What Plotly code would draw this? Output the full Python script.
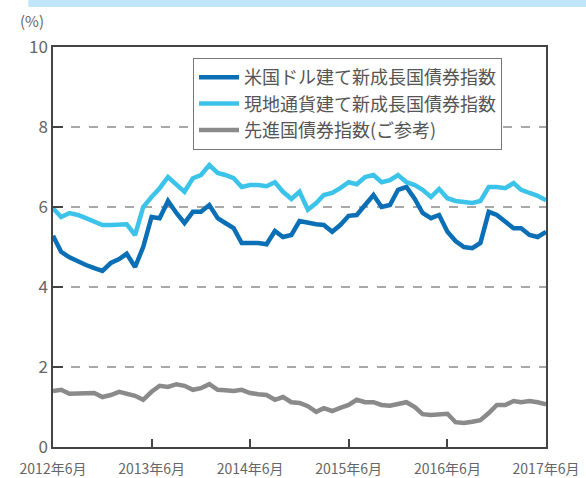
import pandas as pd
import plotly.graph_objects as go

months = pd.date_range("2012-06-01", "2017-06-01", freq="MS")

usd_em = [5.28, 4.88, 4.74, 4.63, 4.55, 4.47, 4.40, 4.60, 4.70, 4.83,
          4.50, 5.00, 5.75, 5.72, 6.15, 5.85, 5.60, 5.88, 5.88, 6.05,
          5.72, 5.60, 5.47, 5.10, 5.10, 5.10, 5.07, 5.40, 5.25, 5.30,
          5.65, 5.60, 5.57, 5.55, 5.38, 5.55, 5.78, 5.80, 6.05, 6.30,
          6.00, 6.05, 6.43, 6.50, 6.20, 5.85, 5.72, 5.80, 5.38, 5.15,
          5.00, 4.97, 5.10, 5.88, 5.80, 5.65, 5.47, 5.47, 5.30, 5.25,
          5.38]

local_em = [5.97, 5.75, 5.85, 5.80, 5.72, 5.62, 5.55, 5.55, 5.55, 5.57,
            5.30, 6.00, 6.25, 6.47, 6.75, 6.55, 6.38, 6.72, 6.80, 7.05,
            6.85, 6.80, 6.72, 6.50, 6.55, 6.55, 6.52, 6.62, 6.38, 6.20,
            6.38, 5.93, 6.10, 6.30, 6.35, 6.47, 6.62, 6.57, 6.75, 6.80,
            6.62, 6.67, 6.80, 6.62, 6.55, 6.43, 6.25, 6.45, 6.22, 6.15,
            6.12, 6.10, 6.15, 6.50, 6.50, 6.47, 6.60, 6.43, 6.35, 6.28,
            6.17]

developed = [1.40, 1.43, 1.33, 1.33, 1.33, 1.35, 1.25, 1.30, 1.38, 1.33,
             1.28, 1.18, 1.38, 1.53, 1.50, 1.57, 1.53, 1.43, 1.47, 1.57,
             1.43, 1.42, 1.40, 1.43, 1.35, 1.32, 1.30, 1.18, 1.25, 1.12,
             1.10, 1.02, 0.88, 0.97, 0.90, 0.98, 1.05, 1.18, 1.12, 1.12,
             1.05, 1.03, 1.07, 1.12, 1.00, 0.82, 0.80, 0.82, 0.83, 0.62,
             0.60, 0.63, 0.67, 0.85, 1.05, 1.05, 1.15, 1.12, 1.15, 1.12,
             1.07]

series_names = ["米国ドル建て新成長国債券指数", "現地通貨建て新成長国債券指数", "先進国債券指数(ご参考)"]
series_colors = ["#0b6fb6", "#3cc3ea", "#8a8a8a"]

tick_dates = ["2012-06-01", "2013-06-01", "2014-06-01", "2015-06-01", "2016-06-01", "2017-06-01"]
tick_labels = ["2012年6月", "2013年6月", "2014年6月", "2015年6月", "2016年6月", "2017年6月"]
y_ticks = [0, 2, 4, 6, 8, 10]

FONT = "Noto Sans CJK JP"

fig = go.Figure()
for name, vals, col in zip(series_names, [usd_em, local_em, developed], series_colors):
    fig.add_trace(go.Scatter(x=months, y=vals, mode="lines", name=name,
                             line=dict(color=col, width=4.5)))

fig.update_layout(
    width=586, height=478,
    margin=dict(l=53, r=40, t=47, b=31),
    paper_bgcolor="white", plot_bgcolor="white",
    font=dict(family=FONT, color="#555555"),
    showlegend=True,
    legend=dict(x=0.284, y=0.9725, xanchor="left", yanchor="top",
                bgcolor="white", bordercolor="#777777", borderwidth=1,
                font=dict(size=18, color="#555555", family=FONT),
                itemwidth=40),
    xaxis=dict(type="date", range=["2012-06-01", "2017-06-01"],
               tickvals=tick_dates, ticktext=tick_labels,
               tickfont=dict(size=14, color="#666666"),
               ticklabelstandoff=8, automargin=False,
               ticks="inside", ticklen=8, tickcolor="#444444", tickwidth=1.5,
               showline=True, linecolor="#444444", linewidth=1.5, mirror=True,
               showgrid=False, zeroline=False),
    yaxis=dict(range=[0, 10], tickvals=y_ticks, automargin=False,
               tickfont=dict(size=17, color="#666666"),
               ticks="inside", ticklen=10, tickcolor="#444444", tickwidth=1.5,
               showline=True, linecolor="#444444", linewidth=1.5, mirror=True,
               showgrid=True, gridcolor="#a8a8a8", gridwidth=1.5, griddash="dash",
               zeroline=False),
    annotations=[dict(text="(%)", xref="paper", yref="paper", x=-0.014, y=1.035,
                      xanchor="right", yanchor="bottom", showarrow=False,
                      font=dict(size=15, color="#666666", family=FONT))],
    shapes=[dict(type="rect", xref="paper", yref="paper", x0=-0.05, x1=1.09,
                 y0=1.10, y1=1.12, fillcolor="#bfe6f8", line=dict(width=0),
                 layer="below")],
)

fig.write_html("out.html", config={"displayModeBar": False},
               post_script="document.body.style.margin='0';")
